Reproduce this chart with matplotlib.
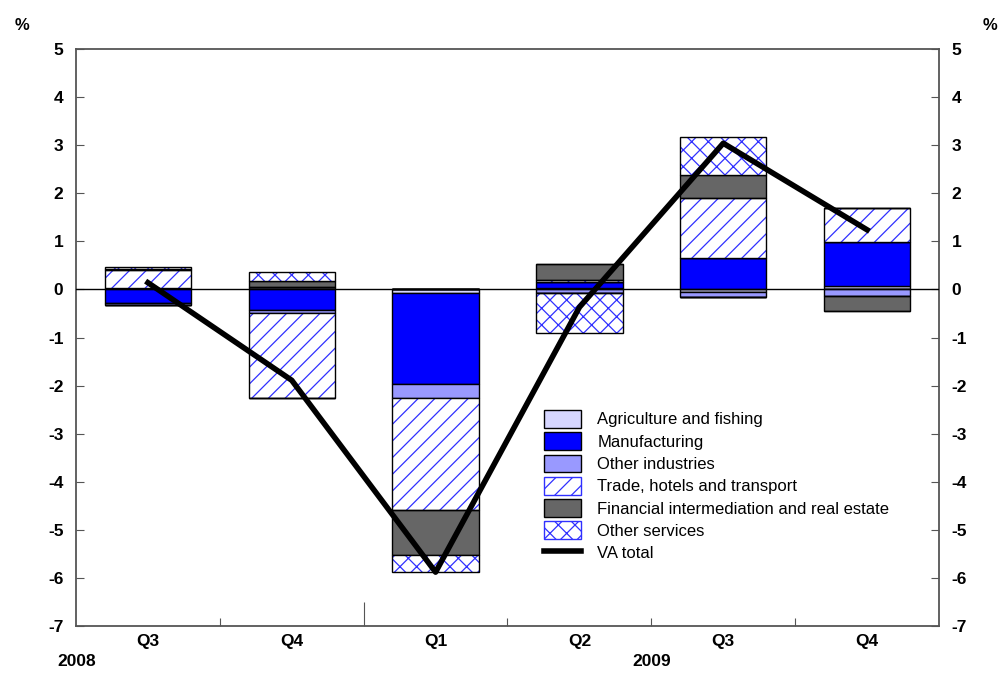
import matplotlib
matplotlib.use("Agg")
import matplotlib.pyplot as plt
import numpy as np

plt.rcParams['font.family'] = ['Liberation Sans', 'DejaVu Sans']
plt.rcParams['hatch.linewidth'] = 0.9
plt.rcParams['axes.unicode_minus'] = False

quarters = ["Q3", "Q4", "Q1", "Q2", "Q3", "Q4"]
years = ["2008", "2009"]

agriculture = [0.03, 0.06, -0.08, 0.02, -0.06, 0.07]
manufacturing = [-0.28, -0.43, -1.88, 0.13, 0.66, 0.91]
other_industries = [-0.05, -0.06, -0.30, -0.08, -0.09, -0.13]
trade = [0.37, -1.76, -2.32, 0.05, 1.24, 0.71]
financial = [0.03, 0.12, -0.94, 0.33, 0.48, -0.32]
other_services = [0.03, 0.18, -0.35, -0.82, 0.80, 0.0]
va_total = [0.14, -1.89, -5.88, -0.37, 3.04, 1.24]

HATCH_BLUE = "#3030FF"
series = [
    ("Agriculture and fishing", agriculture, dict(facecolor="#D6D6FF")),
    ("Manufacturing", manufacturing, dict(facecolor="#0000FF")),
    ("Other industries", other_industries, dict(facecolor="#9999FF")),
    ("Trade, hotels and transport", trade, dict(facecolor="white", hatch="//")),
    ("Financial intermediation and real estate", financial, dict(facecolor="#666666")),
    ("Other services", other_services, dict(facecolor="white", hatch="xx")),
]

fig = plt.figure(figsize=(10.06, 6.73), dpi=100)
ax = fig.add_axes([76/1006, 1-626/673, (939-76)/1006, (626-49)/673])

x = np.arange(len(quarters))
pos_base = np.zeros(len(x))
neg_base = np.zeros(len(x))
handles = []
W = 0.6
for name, vals, style in series:
    v = np.array(vals, dtype=float)
    pos = np.where(v > 0, v, 0)
    neg = np.where(v < 0, v, 0)
    if "hatch" in style:
        # hatch drawn in blue, outline in black on top
        b = ax.bar(x, pos, bottom=pos_base, width=W, facecolor="white",
                   edgecolor=HATCH_BLUE, hatch=style["hatch"], linewidth=0, zorder=2,
                   label=name)
        ax.bar(x, neg, bottom=neg_base, width=W, facecolor="white",
               edgecolor=HATCH_BLUE, hatch=style["hatch"], linewidth=0, zorder=2)
        ax.bar(x, pos, bottom=pos_base, width=W, fill=False, edgecolor="black",
               linewidth=1.0, zorder=2.5)
        ax.bar(x, neg, bottom=neg_base, width=W, fill=False, edgecolor="black",
               linewidth=1.0, zorder=2.5)
    else:
        b = ax.bar(x, pos, bottom=pos_base, width=W, edgecolor="black", linewidth=1.0,
                   zorder=2, label=name, **style)
        ax.bar(x, neg, bottom=neg_base, width=W, edgecolor="black", linewidth=1.0,
               zorder=2, **style)
    pos_base += pos
    neg_base += neg
    handles.append(b)

line, = ax.plot(x, va_total, color="black", linewidth=4, zorder=4, label="VA total")

ax.axhline(0, color="black", linewidth=1.0, zorder=3)

ax.set_xlim(-0.5, 5.5)
ax.set_ylim(-7, 5)
ax.set_yticks(range(-7, 6))
ax.set_xticks(np.arange(0.5, 5.5, 1.0))
ax.set_xticklabels([])
ax.set_xticks(x, minor=True)
ax.set_xticklabels(quarters, minor=True)
ax.tick_params(axis='x', which='minor', length=0, pad=6, labelsize=12.5)
ax.tick_params(axis='x', which='major', direction='in', length=6, color="#555555")
ax.tick_params(axis='y', which='major', direction='in', length=6, right=True,
               labelright=True, labelsize=12.5, pad=9, color="#555555")
for lab in ax.get_xticklabels(minor=True):
    lab.set_fontweight('bold')
for t in ax.yaxis.get_major_ticks():
    t.label1.set_fontweight('bold')
    t.label2.set_fontweight('bold')
ax.xaxis.get_major_ticks()[1].tick1line.set_markersize(17)

for s in ax.spines.values():
    s.set_color("#555555")
    s.set_linewidth(1.3)

fig.text(15/1006, 1-25/673, "%", fontsize=12, fontweight='bold', ha='left', va='center')
fig.text(997/1006, 1-25/673, "%", fontsize=12, fontweight='bold', ha='right', va='center')
fig.text(57/1006, 1-662/673, years[0], fontsize=12.5, fontweight='bold', ha='left', va='center')
fig.text(652/1006, 1-662/673, years[1], fontsize=12.5, fontweight='bold', ha='center', va='center')

leg_handles = handles + [line]
leg = fig.legend(leg_handles, [h.get_label() for h in leg_handles],
                 loc='upper left', bbox_to_anchor=(544/1006, 1-410/673),
                 frameon=False, fontsize=12, handlelength=2.2, handleheight=1.25,
                 handletextpad=1.0, labelspacing=0.28, borderpad=0, borderaxespad=0)
for p in leg.get_patches():
    p.set_edgecolor("black")
    p.set_linewidth(1.0)
for p, (name, vals, style) in zip(leg.get_patches(), series):
    if "hatch" in style:
        p.set_edgecolor(HATCH_BLUE)

fig.savefig("out.png", dpi=100)
